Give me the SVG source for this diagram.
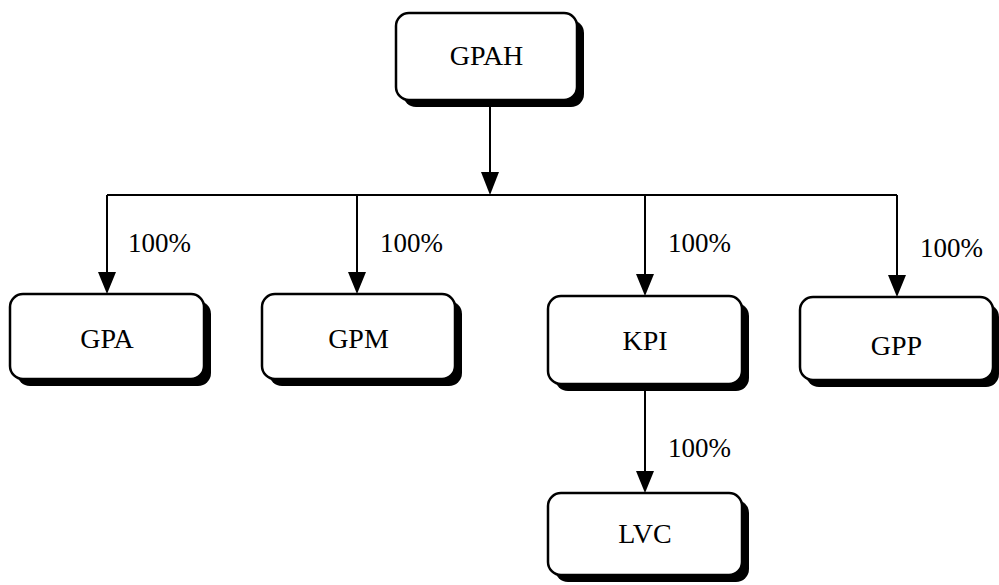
<svg xmlns="http://www.w3.org/2000/svg" width="999" height="585" viewBox="0 0 999 585">
<style>
.box{fill:#fff;stroke:#000;stroke-width:2.5}
.sh{fill:#000}
.t{font-family:"Liberation Serif","Times New Roman",serif;font-size:28px;fill:#000;text-anchor:middle}
.lbl{font-family:"Liberation Serif","Times New Roman",serif;font-size:27px;fill:#000}
.ln{stroke:#000;stroke-width:2;fill:none}
</style>
<defs>
<marker id="ah" markerUnits="userSpaceOnUse" markerWidth="20" markerHeight="24" refX="9" refY="22" orient="auto-start-reverse" viewBox="0 0 18 22">
<path d="M0,0 L18,0 L9,22 Z" fill="#000" transform="rotate(0)"/>
</marker>
</defs>
<rect width="999" height="585" fill="#fff"/>
<g id="connectors">
<path class="ln" d="M490,100 L490,173"/>
<polygon points="481,172 499,172 490,195" fill="#000"/>
<path class="ln" d="M107,195 L897,195"/>
<path class="ln" d="M107,195 L107,273"/>
<polygon points="98,272 116,272 107,294" fill="#000"/>
<path class="ln" d="M357,195 L357,273"/>
<polygon points="348,272 366,272 357,294" fill="#000"/>
<path class="ln" d="M645,195 L645,275"/>
<polygon points="636,274 654,274 645,296" fill="#000"/>
<path class="ln" d="M897,195 L897,276"/>
<polygon points="888,275 906,275 897,297" fill="#000"/>
<path class="ln" d="M645,384 L645,472"/>
<polygon points="636,471 654,471 645,493" fill="#000"/>
<text class="lbl" x="128" y="252">100%</text>
<text class="lbl" x="380" y="252">100%</text>
<text class="lbl" x="668" y="252">100%</text>
<text class="lbl" x="920" y="257">100%</text>
<text class="lbl" x="668" y="457">100%</text>
</g>
<g id="GPAH">
<rect class="sh" x="403" y="20" width="181" height="87" rx="13"/>
<rect class="box" x="396" y="13" width="181" height="87" rx="13"/>
<text class="t" x="486.5" y="65">GPAH</text>
</g>
<g id="GPA">
<rect class="sh" x="17" y="301" width="194" height="85" rx="13"/>
<rect class="box" x="10" y="294" width="194" height="85" rx="13"/>
<text class="t" x="107" y="348">GPA</text>
</g>
<g id="GPM">
<rect class="sh" x="269" y="301" width="193" height="85" rx="13"/>
<rect class="box" x="262" y="294" width="193" height="85" rx="13"/>
<text class="t" x="358.5" y="348">GPM</text>
</g>
<g id="KPI">
<rect class="sh" x="555" y="303" width="194" height="88" rx="13"/>
<rect class="box" x="548" y="296" width="194" height="88" rx="13"/>
<text class="t" x="645" y="350">KPI</text>
</g>
<g id="GPP">
<rect class="sh" x="806" y="304" width="193" height="83" rx="13"/>
<rect class="box" x="800" y="297" width="193" height="83" rx="13"/>
<text class="t" x="896.5" y="355">GPP</text>
</g>
<g id="LVC">
<rect class="sh" x="555" y="500" width="194" height="82" rx="13"/>
<rect class="box" x="548" y="493" width="194" height="82" rx="13"/>
<text class="t" x="645" y="543">LVC</text>
</g>
</svg>
